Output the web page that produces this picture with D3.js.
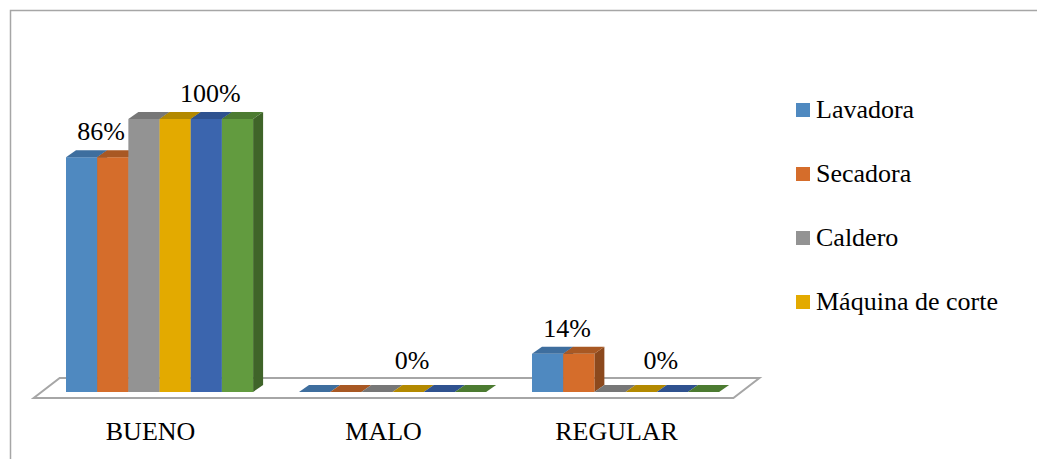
<!DOCTYPE html>
<html>
<head>
<meta charset="utf-8">
<script src="https://cdn.jsdelivr.net/npm/d3@7"></script>
<style>
  html, body { margin: 0; padding: 0; background: #fff; }
  svg { display: block; }
</style>
</head>
<body>
<svg id="chart" width="1037" height="459"></svg>
<script>
// Equipment condition survey: share of each machine rated per condition
const categories = ["BUENO", "MALO", "REGULAR"];
const seriesNames = ["Lavadora", "Secadora", "Caldero", "Máquina de corte", "Serie5", "Serie6"];
const lavadora   = [0.86, 0.00, 0.14];
const secadora   = [0.86, 0.00, 0.14];
const caldero    = [1.00, 0.00, 0.00];
const maquina    = [1.00, 0.00, 0.00];
const serie5     = [1.00, 0.00, 0.00];
const serie6     = [1.00, 0.00, 0.00];
const seriesValues = [lavadora, secadora, caldero, maquina, serie5, serie6];

// Data labels shown on the chart: category, series range the label sits over
const labelCategory = ["BUENO", "BUENO", "MALO", "REGULAR", "REGULAR"];
const labelFrom     = [0, 4, 3, 0, 3];
const labelTo       = [1, 4, 3, 1, 4];

// Face colours per series: front, top, side
const frontColors = ["#4f89c0", "#d56d2b", "#939393", "#e3aa00", "#3b65ae", "#629b3f"];
const topColors   = ["#3e6e9e", "#a85823", "#777777", "#b38900", "#2f528f", "#4c7b31"];
const sideColors  = ["#355f88", "#8c491d", "#666666", "#977300", "#284679", "#3f6429"];

const FONT = "'Liberation Serif', 'Times New Roman', Times, 'DejaVu Serif', serif";

const svg = d3.select("#chart");
const fmt = d3.format(".0%");

// Chart frame (only top and left edges are inside the window)
svg.append("path")
  .attr("d", "M10.5,459 L10.5,10.5 L1037,10.5")
  .attr("fill", "none").attr("stroke", "#a6a6a6").attr("stroke-width", 1.5);

// Scales
const x = d3.scaleBand().domain(categories).range([42.7, 742.4])
  .paddingInner(0.197).paddingOuter(0.1);
const xs = d3.scaleBand().domain(d3.range(seriesNames.length)).range([0, x.bandwidth()]);
const y = d3.scaleLinear().domain([0, 1]).range([392, 119]);

// 3D projection offsets
const depthX = 10, depthY = 7;      // bar depth
const floorDX = 26, floorDY = 20;   // floor depth
const floorShift = 9;               // floor front edge sits left of the bar fronts
const floorFrontY = y(0) + 6;

// Floor
const [r0, r1] = x.range();
const fl = r0 - floorShift, fr = r1 - floorShift;
svg.append("path")
  .attr("d", `M${fl},${floorFrontY} L${fr},${floorFrontY} L${fr + floorDX},${floorFrontY - floorDY} L${fl + floorDX},${floorFrontY - floorDY} Z`)
  .attr("fill", "#fff").attr("stroke", "#a6a6a6").attr("stroke-width", 2)
  .attr("stroke-linejoin", "miter");

// Bars
const bars = [];
categories.forEach((c, ci) => {
  seriesNames.forEach((s, si) => {
    bars.push({ c, si, v: seriesValues[si][ci] });
  });
});

const g = svg.append("g");
const y0 = y(0);
bars.forEach(b => {
  const x0 = x(b.c) + xs(b.si);
  const w = xs.bandwidth();
  const yt = y(b.v);
  const grp = g.append("g");
  if (b.v > 0) {
    // side face
    grp.append("path")
      .attr("d", `M${x0 + w},${yt} L${x0 + w + depthX},${yt - depthY} L${x0 + w + depthX},${y0 - depthY} L${x0 + w},${y0} Z`)
      .attr("fill", sideColors[b.si]);
    // front face
    grp.append("rect")
      .attr("x", x0).attr("y", yt).attr("width", w).attr("height", y0 - yt)
      .attr("fill", frontColors[b.si]);
  }
  // top face
  grp.append("path")
    .attr("d", `M${x0},${yt} L${x0 + depthX},${yt - depthY} L${x0 + w + depthX},${yt - depthY} L${x0 + w},${yt} Z`)
    .attr("fill", topColors[b.si]);
});

// Data labels
labelCategory.forEach((c, i) => {
  const ci = categories.indexOf(c);
  const a = labelFrom[i], bIdx = labelTo[i];
  const v = seriesValues[a][ci];
  const cx = x(c) + (xs(a) + xs(bIdx) + xs.bandwidth()) / 2 + 4;
  const base = v > 0 ? y(v) - 17 : y(0) - 23;
  svg.append("text")
    .attr("x", cx).attr("y", base)
    .attr("text-anchor", "middle")
    .attr("font-family", FONT)
    .attr("font-size", 26)
    .text(fmt(v));
});

// Category axis labels, centred on the floor's front edge
svg.append("g").selectAll("text").data(categories).join("text")
  .attr("x", d => x(d) + x.bandwidth() / 2 - floorShift)
  .attr("y", 440)
  .attr("text-anchor", "middle")
  .attr("font-family", FONT)
  .attr("font-size", 26)
  .text(d => d);

// Legend: entries are listed while they fit in the legend area
const legendTop = 110, legendStep = 64, legendBottom = 330;
const legend = svg.append("g");
seriesNames.forEach((s, i) => {
  const cy = legendTop + i * legendStep;
  if (cy > legendBottom) return;
  legend.append("rect")
    .attr("x", 796).attr("y", cy - 7).attr("width", 14).attr("height", 14)
    .attr("fill", frontColors[i]);
  legend.append("text")
    .attr("x", 816).attr("y", cy + 8)
    .attr("font-family", FONT)
    .attr("font-size", 26)
    .text(s);
});
</script>
</body>
</html>
